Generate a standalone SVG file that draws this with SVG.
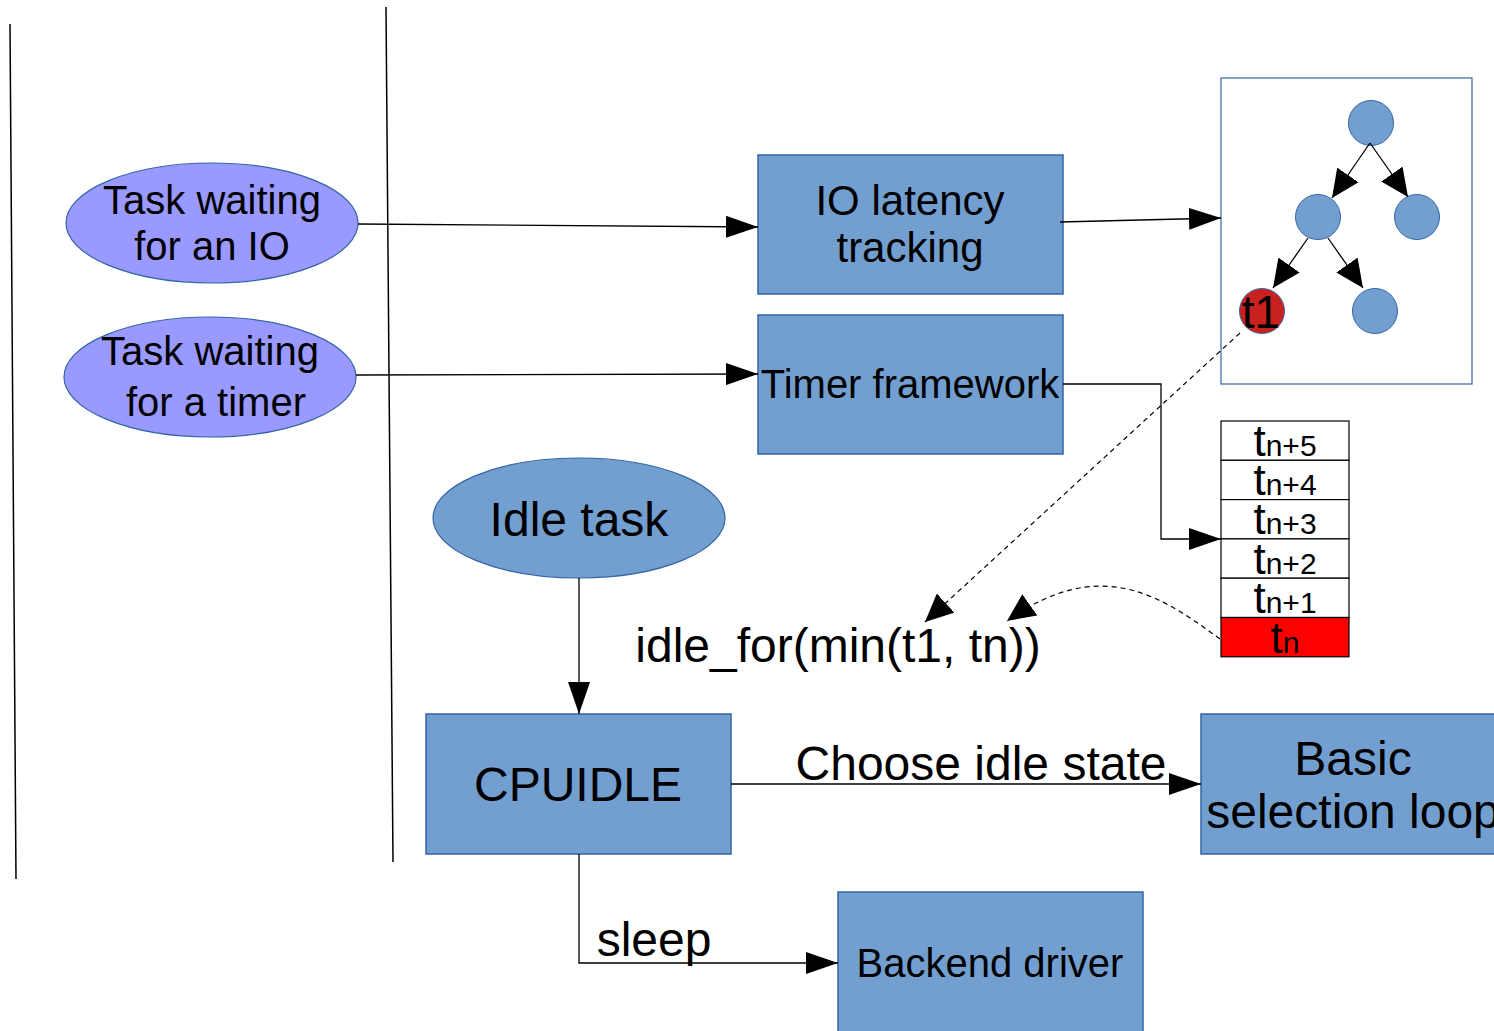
<svg xmlns="http://www.w3.org/2000/svg" width="1494" height="1031" viewBox="0 0 1494 1031">
<defs>
<marker id="ah" markerUnits="userSpaceOnUse" markerWidth="34" markerHeight="22" refX="32" refY="11" orient="auto">
<path d="M0,0 L32,11 L0,22 z" fill="#000"/>
</marker>
<marker id="ahs" markerUnits="userSpaceOnUse" markerWidth="30" markerHeight="26" refX="28" refY="13" orient="auto">
<path d="M0,0 L28,13 L0,26 z" fill="#000"/>
</marker>
<style>
text{font-family:"Liberation Sans",Arial,sans-serif;fill:#000;text-anchor:middle}
.box{fill:#729fcf;stroke:#3465a4;stroke-width:1.5}
.purple{fill:#9999ff;stroke:#3465a4;stroke-width:1.2}
.conn{fill:none;stroke:#000;stroke-width:1.3}
.dash{fill:none;stroke:#000;stroke-width:1.2;stroke-dasharray:5,4}
.cell{fill:#fff;stroke:#000;stroke-width:1.2}
.sep{fill:none;stroke:#000;stroke-width:1.5}
</style>
</defs>
<rect width="1494" height="1031" fill="#fff"/>

<g id="separators">
<line class="sep" x1="10" y1="24" x2="16" y2="879"/>
<line class="sep" x1="386" y1="7" x2="393" y2="862"/>
</g>

<g id="task-io">
<ellipse class="purple" cx="212" cy="223" rx="146" ry="60"/>
<text x="212" y="214" font-size="40">Task waiting</text>
<text x="212" y="260" font-size="40">for an IO</text>
</g>

<g id="task-timer">
<ellipse class="purple" cx="210" cy="377" rx="146" ry="60"/>
<text x="210" y="365" font-size="40">Task waiting</text>
<text x="216" y="416" font-size="40">for a timer</text>
</g>

<g id="io-latency">
<rect class="box" x="758" y="155" width="305" height="139"/>
<text x="910" y="215" font-size="42">IO latency</text>
<text x="910" y="262" font-size="42">tracking</text>
</g>

<g id="timer-framework">
<rect class="box" x="758" y="315" width="305" height="139"/>
<text x="910" y="398" font-size="40">Timer framework</text>
</g>

<g id="tree">
<rect x="1221" y="78" width="251" height="306" fill="#fff" stroke="#3465a4" stroke-width="1.2"/>
<circle cx="1371" cy="123" r="22.5" fill="#729fcf" stroke="#3465a4" stroke-width="1"/>
<circle cx="1318" cy="217" r="22.5" fill="#729fcf" stroke="#3465a4" stroke-width="1"/>
<circle cx="1417" cy="217" r="22.5" fill="#729fcf" stroke="#3465a4" stroke-width="1"/>
<circle cx="1262" cy="311" r="22.5" fill="#c9211e" stroke="#3465a4" stroke-width="1"/>
<circle cx="1375" cy="311" r="22.5" fill="#729fcf" stroke="#3465a4" stroke-width="1"/>
<text x="1261" y="328" font-size="46">t1</text>
<line class="conn" x1="1370" y1="143" x2="1332" y2="198" marker-end="url(#ahs)"/>
<line class="conn" x1="1370" y1="143" x2="1408" y2="197" marker-end="url(#ahs)"/>
<line class="conn" x1="1308" y1="238" x2="1273" y2="288" marker-end="url(#ahs)"/>
<line class="conn" x1="1328" y1="238" x2="1363" y2="288" marker-end="url(#ahs)"/>
</g>

<g id="timer-stack">
<rect class="cell" x="1221" y="421" width="128" height="39.3"/>
<rect class="cell" x="1221" y="460.3" width="128" height="39.3"/>
<rect class="cell" x="1221" y="499.6" width="128" height="39.3"/>
<rect class="cell" x="1221" y="538.9" width="128" height="39.3"/>
<rect class="cell" x="1221" y="578.2" width="128" height="39.3"/>
<rect x="1221" y="617.5" width="128" height="39.3" fill="#ff0000" stroke="#000" stroke-width="1.2"/>
<text x="1285" y="456" font-size="44">t<tspan font-size="30">n+5</tspan></text>
<text x="1285" y="495" font-size="44">t<tspan font-size="30">n+4</tspan></text>
<text x="1285" y="534" font-size="44">t<tspan font-size="30">n+3</tspan></text>
<text x="1285" y="574" font-size="44">t<tspan font-size="30">n+2</tspan></text>
<text x="1285" y="613" font-size="44">t<tspan font-size="30">n+1</tspan></text>
<text x="1285" y="653" font-size="44">t<tspan font-size="30">n</tspan></text>
</g>

<g id="idle-task">
<ellipse cx="579" cy="518" rx="146" ry="60" fill="#729fcf" stroke="#3465a4" stroke-width="1.2"/>
<text x="579" y="536" font-size="48">Idle task</text>
</g>

<g id="cpuidle">
<rect class="box" x="426" y="714" width="305" height="140"/>
<text x="578" y="801" font-size="48">CPUIDLE</text>
</g>

<g id="basic-selection-loop">
<rect class="box" x="1201" y="714" width="305" height="140"/>
<text x="1353" y="775" font-size="48">Basic</text>
<text x="1353" y="828" font-size="48">selection loop</text>
</g>

<g id="backend-driver">
<rect class="box" x="838" y="892" width="305" height="145"/>
<text x="990" y="977" font-size="40">Backend driver</text>
</g>

<g id="connectors">
<line class="conn" x1="358" y1="224" x2="758" y2="227" marker-end="url(#ah)"/>
<line class="conn" x1="356" y1="375" x2="758" y2="374" marker-end="url(#ah)"/>
<line class="conn" x1="1060" y1="222" x2="1221" y2="218" marker-end="url(#ah)"/>
<polyline class="conn" points="1063,384 1161,384 1161,539 1221,539" marker-end="url(#ah)"/>
<line class="dash" x1="1240" y1="333" x2="925" y2="622" marker-end="url(#ahs)"/>
<path class="dash" d="M1220,639 C1160,595 1100,555 1007,621" marker-end="url(#ahs)"/>
<line class="conn" x1="579" y1="578" x2="579" y2="714" marker-end="url(#ah)"/>
<line class="conn" x1="731" y1="784" x2="1201" y2="784" marker-end="url(#ah)"/>
<polyline class="conn" points="579,854 579,963 838,963" marker-end="url(#ah)"/>
<text x="838" y="662" font-size="48">idle_for(min(t1, tn))</text>
<text x="981" y="780" font-size="48">Choose idle state</text>
<text x="654" y="956" font-size="48">sleep</text>
</g>
</svg>
